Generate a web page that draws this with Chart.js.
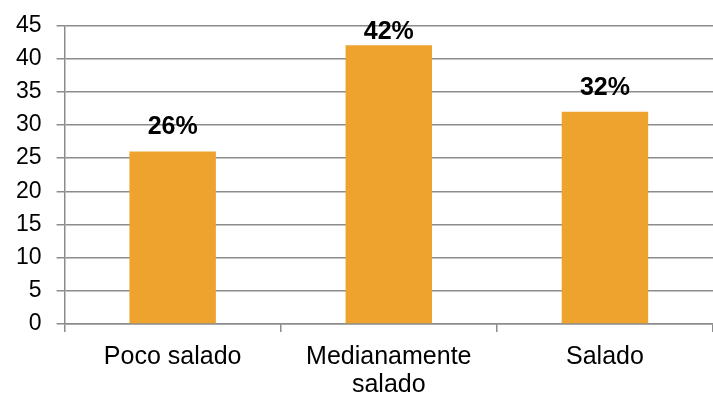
<!DOCTYPE html>
<html>
<head>
<meta charset="utf-8">
<script src="https://cdn.jsdelivr.net/npm/chart.js@4"></script>
<style>
  html, body { margin: 0; padding: 0; background: #fff; }
  #wrap { width: 713px; height: 396px; }
</style>
</head>
<body>
<div id="wrap"><canvas id="chart"></canvas></div>
<script>
const categories = [['Poco salado'], ['Medianamente', 'salado'], ['Salado']];
const values = [26, 42, 32];
const valueLabels = ['26%', '42%', '32%'];
const yTicks = [0, 5, 10, 15, 20, 25, 30, 35, 40, 45];

const FONT = "'Liberation Sans', Arial, sans-serif";
const GRID = '#8c8c8c';

// writes the percentage above each bar, kept inside the top of the canvas
const barValues = {
  id: 'barValues',
  afterDatasetsDraw(chart) {
    const ctx = chart.ctx;
    const meta = chart.getDatasetMeta(0);
    ctx.save();
    ctx.font = 'bold 25px ' + FONT;
    ctx.fillStyle = '#000';
    ctx.textAlign = 'center';
    ctx.textBaseline = 'alphabetic';
    meta.data.forEach((bar, i) => {
      const y = Math.max(bar.y - 17, 39);
      ctx.fillText(valueLabels[i], bar.x, y);
    });
    ctx.restore();
  }
};

new Chart(document.getElementById('chart'), {
  type: 'bar',
  data: {
    labels: categories,
    datasets: [{
      data: values,
      backgroundColor: '#EFA32F',
      categoryPercentage: 0.4,
      barPercentage: 1
    }]
  },
  plugins: [barValues],
  options: {
    responsive: true,
    maintainAspectRatio: false,
    animation: false,
    layout: { padding: { left: 1, right: 0, top: 25, bottom: -14 } },
    plugins: {
      legend: { display: false },
      tooltip: { enabled: false }
    },
    scales: {
      x: {
        offset: true,
        grid: {
          offset: true,
          drawOnChartArea: false,
          tickLength: 8,
          color: GRID,
          lineWidth: 1.5
        },
        border: { color: GRID, width: 1.5 },
        ticks: {
          color: '#000',
          font: { family: FONT, size: 25, lineHeight: 1.12 },
          padding: 11,
          maxRotation: 0
        }
      },
      y: {
        min: 0,
        max: 45,
        afterBuildTicks(axis) {
          axis.ticks = yTicks.map(v => ({ value: v }));
        },
        grid: {
          color: GRID,
          lineWidth: 1.5,
          tickLength: 8
        },
        border: { color: GRID, width: 1.5 },
        ticks: {
          color: '#000',
          font: { family: FONT, size: 23, lineHeight: 0.9 },
          padding: 15
        }
      }
    }
  }
});
</script>
</body>
</html>
